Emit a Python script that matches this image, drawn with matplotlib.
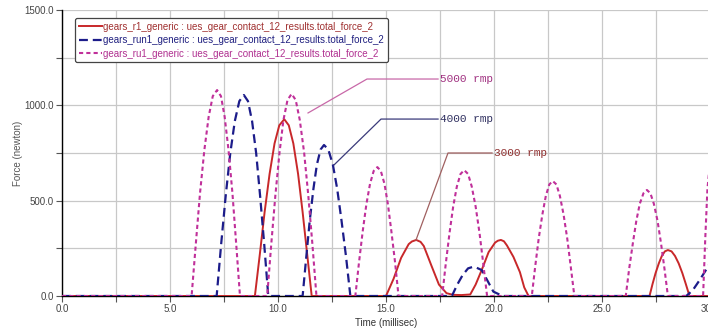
import matplotlib
matplotlib.use("Agg")
import matplotlib.pyplot as plt
from matplotlib.ticker import MultipleLocator, FormatStrFormatter

plt.rcParams["font.family"] = ["Liberation Sans", "DejaVu Sans"]

# --- data (time in ms, force in newton) ---
r1_time = [0.0,
           8.93, 9.16, 9.38, 9.61, 9.84, 10.06, 10.29, 10.5, 10.71, 10.93, 11.14, 11.35, 11.56,
           15.0, 15.35, 15.7, 16.05, 16.2, 16.4, 16.6, 16.75, 17.1, 17.45, 17.8, 18.1, 18.5,
           18.9, 19.15, 19.43, 19.75, 20.05, 20.18, 20.32, 20.46, 20.6, 20.9, 21.2, 21.4, 21.6,
           27.2, 27.34, 27.48, 27.63, 27.77, 27.91, 28.05, 28.22, 28.38, 28.55, 28.72, 28.88, 29.05,
           30.5]
r1_force = [0,
            0, 220, 440, 640, 800, 895, 927, 895, 800, 640, 440, 220, 0,
            0, 90, 200, 272, 286, 294, 284, 262, 160, 60, 15, 6, 5,
            8, 60, 136, 230, 280, 290, 294, 287, 265, 205, 125, 45, 0,
            0, 63, 120, 171, 210, 234, 241, 234, 210, 171, 120, 63, 0,
            0]

run1_time = [0.0,
             7.16, 7.37, 7.58, 7.79, 8.0, 8.21, 8.42, 8.61, 8.8, 8.99, 9.17, 9.36, 9.55,
             11.14, 11.31, 11.47, 11.64, 11.8, 11.97, 12.13, 12.33, 12.54, 12.74, 12.94, 13.15, 13.35,
             18.05, 18.3, 18.55, 18.8, 19.0, 19.2, 19.43, 19.7, 19.97, 20.4,
             28.9, 29.2, 29.5, 29.9, 30.2]
run1_force = [0,
              0, 274, 527, 748, 917, 1022, 1054, 1022, 917, 748, 527, 274, 0,
              0, 206, 396, 562, 689, 768, 792, 768, 689, 562, 396, 206, 0,
              0, 60, 110, 145, 152, 148, 136, 80, 23, 0,
              0, 30, 80, 152, 210]

ru1_time = [0.0,
            6.0, 6.2, 6.39, 6.59, 6.79, 6.98, 7.18, 7.36, 7.53, 7.71, 7.89, 8.06, 8.24,
            9.5, 9.69, 9.88, 10.07, 10.25, 10.44, 10.63, 10.82, 11.01, 11.21, 11.4, 11.59, 11.78,
            13.58, 13.75, 13.92, 14.09, 14.26, 14.43, 14.6, 14.76, 14.93, 15.09, 15.25, 15.42, 15.58,
            17.6, 17.77, 17.94, 18.11, 18.28, 18.45, 18.62, 18.8, 18.97, 19.15, 19.33, 19.5, 19.68,
            21.75, 21.91, 22.07, 22.24, 22.4, 22.56, 22.72, 22.89, 23.05, 23.22, 23.39, 23.55, 23.72,
            26.1, 26.26, 26.43, 26.59, 26.75, 26.92, 27.08, 27.24, 27.4, 27.57, 27.73, 27.89, 28.05,
            29.68, 29.78, 29.88, 30.0, 30.2]
ru1_force = [0,
             0, 280, 540, 765, 940, 1048, 1080, 1048, 940, 765, 540, 280, 0,
             0, 275, 530, 752, 922, 1028, 1060, 1028, 922, 752, 530, 275, 0,
             0, 176, 338, 480, 588, 656, 676, 656, 588, 480, 338, 176, 0,
             0, 172, 330, 469, 574, 640, 660, 640, 574, 469, 330, 172, 0,
             0, 157, 302, 428, 525, 585, 603, 585, 525, 428, 302, 157, 0,
             0, 145, 278, 395, 484, 539, 556, 539, 484, 395, 278, 145, 0,
             0, 300, 560, 700, 800]

labels = ["gears_r1_generic : ues_gear_contact_12_results.total_force_2",
          "gears_run1_generic : ues_gear_contact_12_results.total_force_2",
          "gears_ru1_generic : ues_gear_contact_12_results.total_force_2"]

# annotation labels with their leader-line points (time, force)
note_text = ["5000 rmp", "4000 rmp", "3000 rmp"]
note_x = [[11.39, 14.12, 17.41], [12.59, 14.77, 17.41], [16.39, 17.87, 19.91]]
note_y = [[960, 1138, 1138], [687, 928, 928], [294, 750, 750]]

# --- styles ---
line_colors = ["#c8282a", "#1c1c8a", "#c0309a"]
text_colors = ["#a03030", "#202080", "#b03090"]
note_line_colors = ["#c868a8", "#3a3a7a", "#a06060"]
note_text_colors = ["#a03080", "#303060", "#903030"]

fig = plt.figure(figsize=(7.08, 3.3), dpi=100)
ax = fig.add_axes([62 / 708, 1 - 296 / 330, 648 / 708, 286 / 330])

ax.plot(r1_time, r1_force, color=line_colors[0], lw=1.4, label=labels[0], zorder=3)
ax.plot(run1_time, run1_force, color=line_colors[1], lw=1.6, dashes=(4, 2.2),
        label=labels[1], zorder=4)
ax.plot(ru1_time, ru1_force, color=line_colors[2], lw=1.5, dashes=(2, 1.5),
        label=labels[2], zorder=5)

for txt, xs, ys, lc, tc in zip(note_text, note_x, note_y, note_line_colors, note_text_colors):
    ax.plot(xs, ys, color=lc, lw=0.9, zorder=6)
    ax.text(xs[-1] + 0.1, ys[-1], txt, color=tc, fontsize=8, family="Liberation Mono",
            va="center", ha="left", zorder=6)

ax.set_xlim(0, 30)
ax.set_ylim(0, 1500)
ax.xaxis.set_major_locator(MultipleLocator(5))
ax.xaxis.set_minor_locator(MultipleLocator(2.5))
ax.yaxis.set_major_locator(MultipleLocator(500))
ax.yaxis.set_minor_locator(MultipleLocator(250))
ax.xaxis.set_major_formatter(FormatStrFormatter("%.1f"))
ax.yaxis.set_major_formatter(FormatStrFormatter("%.1f"))
ax.grid(True, which="both", color="#c8c8c8", lw=0.9)
ax.set_axisbelow(True)
for gl in ax.get_ygridlines():
    if gl.get_ydata()[0] >= 1500:
        gl.set_visible(False)

ax.spines["top"].set_visible(False)
ax.spines["right"].set_visible(False)
ax.spines["left"].set_linewidth(1.0)
ax.spines["bottom"].set_linewidth(1.0)
ax.tick_params(which="both", direction="out", length=4, width=0.8, color="#555555",
               labelsize=7, labelcolor="#444444", pad=2)

ax.set_xlabel("Time (millisec)", fontsize=7, color="#333333", labelpad=3)
ax.set_ylabel("Force (newton)", fontsize=7, color="#555555")
ax.yaxis.set_label_coords(-0.060, 0.5)

leg = ax.legend(loc="upper left", bbox_to_anchor=(8 / 648, 1 - 3 / 286), fontsize=7,
                handlelength=2.4, handletextpad=0.1, labelspacing=0.35,
                borderpad=0.4, fancybox=True, framealpha=1, edgecolor="#444444")
leg.get_frame().set_linewidth(0.9)
for t, c in zip(leg.get_texts(), text_colors):
    t.set_color(c)

fig.savefig("out.png", dpi=100)
